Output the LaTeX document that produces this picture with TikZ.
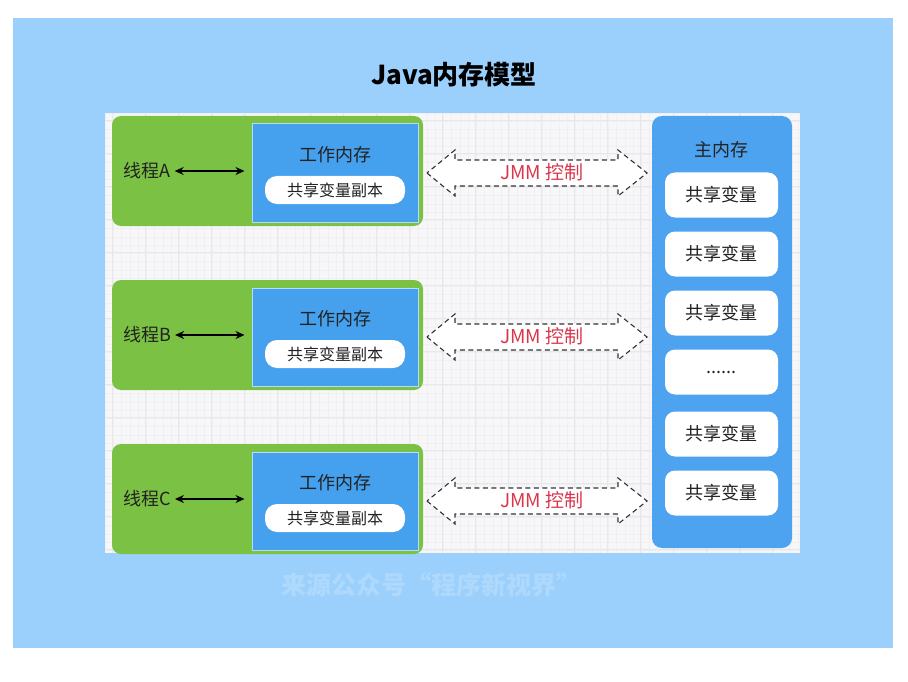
\documentclass[tikz,border=0pt]{standalone}
\usepackage{fontspec}
\setmainfont{Noto Sans CJK SC}
\usetikzlibrary{arrows.meta}
\definecolor{bgblue}{HTML}{9BD0FC}
\definecolor{panelbg}{HTML}{F7F7F9}
\definecolor{gridmin}{HTML}{F0F0F2}
\definecolor{gridmaj}{HTML}{E8E8EB}
\definecolor{thgreen}{HTML}{7BC143}
\definecolor{wmblue}{HTML}{45A0EE}
\definecolor{mmblue}{HTML}{4DA3EF}
\definecolor{wmborder}{HTML}{B5DCFB}
\definecolor{txt}{HTML}{222222}
\definecolor{jmmred}{HTML}{D9364C}
\definecolor{wmark}{HTML}{AED9FD}
\tikzset{
  fs/.style={font=\fontsize{#1}{#1}\selectfont},
  thread/.style={fill=thgreen, rounded corners=9pt, minimum width=311pt, minimum height=110pt, inner sep=0pt},
  workmem/.style={fill=wmblue, draw=wmborder, line width=1pt, minimum width=166pt, minimum height=98pt, inner sep=0pt},
  pill/.style={fill=white, rounded corners=12pt, minimum width=140pt, minimum height=28pt, inner sep=0pt, text=txt, fs=16},
  lbl/.style={text=txt, inner sep=2pt, fs=18},
  jmm/.style={draw=black!80, line width=1.1pt, fill=white, dash pattern=on 5pt off 3.5pt},
  jmmtext/.style={text=jmmred, fs=19, inner sep=0pt},
  shvar/.style={fill=white, rounded corners=10pt, minimum width=113pt, minimum height=45pt, inner sep=0pt, text=txt, fs=18},
  biarrow/.style={{Stealth[length=9pt,width=8pt]}-{Stealth[length=9pt,width=8pt]}, line width=1.4pt, black},
}
\begin{document}
\begin{tikzpicture}[x=1pt,y=-1pt]
\useasboundingbox (0,0) rectangle (908,682);
\fill[white] (0,0) rectangle (908,682);
\fill[bgblue] (13,18) rectangle (893,648);
% title
\node[font=\fontsize{26}{26}\selectfont\bfseries, text=black] (title) at (454,75) {Java内存模型};
% panel with grid
\fill[panelbg] (105,113) rectangle (800,553);
\begin{scope}
\clip (105,113) rectangle (800,553);
\foreach \i in {0,...,90} {
  \draw[gridmin, line width=0.4pt] ({105+\i*8.25},113) -- ({105+\i*8.25},553);
}
\foreach \i in {0,...,55} {
  \draw[gridmin, line width=0.4pt] (105,{113+\i*8.25}) -- (800,{113+\i*8.25});
}
\foreach \i in {0,...,22} {
  \draw[gridmaj, line width=0.6pt] ({112+\i*33},113) -- ({112+\i*33},553);
}
\foreach \i in {0,...,14} {
  \draw[gridmaj, line width=0.6pt] (105,{120+\i*33}) -- (800,{120+\i*33});
}
\end{scope}
% watermark
\node[font=\fontsize{25}{25}\selectfont\bfseries, text=wmark] (wm) at (431,585) {来源公众号“程序新视界”};
% threads
\foreach \n/\t in {A/116, B/280, C/444} {
  \node[thread] (g\n) at (267.5,{\t+55}) {};
  \node[workmem] (w\n) at (335,{\t+57}) {};
  \node[lbl] (wt\n) at (335,{\t+39}) {工作内存};
  \node[pill] (p\n) at (335,{\t+74}) {共享变量副本};
  \node[lbl] (t\n) at (147,{\t+55}) {线程\n};
  \draw[biarrow, shorten <=2pt, shorten >=7pt] (t\n.east) -- (w\n.west |- t\n.east);
  % JMM dashed double arrow
  \coordinate (c\n) at (537,{\t+57});
  \draw[jmm] ([xshift=-110pt]c\n) -- ([xshift=-82pt,yshift=-23pt]c\n) -- ([xshift=-82pt,yshift=-13pt]c\n)
    -- ([xshift=81pt,yshift=-13pt]c\n) -- ([xshift=81pt,yshift=-23pt]c\n) -- ([xshift=110pt]c\n)
    -- ([xshift=81pt,yshift=23pt]c\n) -- ([xshift=81pt,yshift=13pt]c\n) -- ([xshift=-82pt,yshift=13pt]c\n)
    -- ([xshift=-82pt,yshift=23pt]c\n) -- cycle;
  \node[jmmtext] (j\n) at ([xshift=5pt,yshift=1pt]c\n) {JMM 控制};
}
% main memory
\node[fill=mmblue, rounded corners=10pt, minimum width=140pt, minimum height=432pt, inner sep=0pt] (mm) at (722,332) {};
\node[lbl] (mmt) at (721,150) {主内存};
\node[shvar] (s1) at (721.5,195) {共享变量};
\node[shvar] (s2) at (721.5,254) {共享变量};
\node[shvar] (s3) at (721.5,313) {共享变量};
\node[shvar] (s4) at (721.5,372) {......};
\node[shvar] (s5) at (721.5,434) {共享变量};
\node[shvar] (s6) at (721.5,493) {共享变量};
\end{tikzpicture}
\end{document}
